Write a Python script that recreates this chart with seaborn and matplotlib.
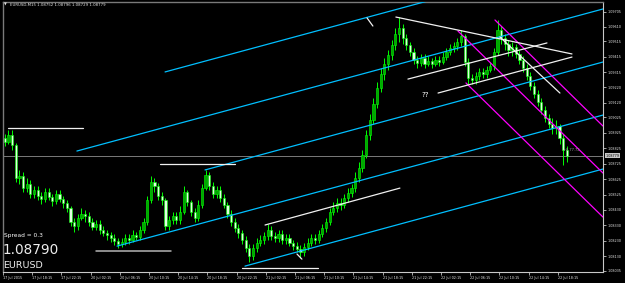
import numpy as np
import pandas as pd
import matplotlib
matplotlib.use("Agg")
import matplotlib.pyplot as plt
import seaborn as sns

# ---------------- data (EURUSD M15, one candle drawn per 2 bars) ----------------
first_open = 1.08892
close_price = [
    1.08866, 1.08911, 1.08847, 1.08634, 1.08647, 1.08569, 1.08595, 1.08531, 1.08557, 1.08518,
    1.08498, 1.08544, 1.08511, 1.08486, 1.08531, 1.08498, 1.08473, 1.08440, 1.08350, 1.08324,
    1.08376, 1.08402, 1.08389, 1.08350, 1.08318, 1.08337, 1.08299, 1.08279, 1.08266, 1.08247,
    1.08228, 1.08208, 1.08221, 1.08247, 1.08234, 1.08266, 1.08253, 1.08299, 1.08350, 1.08492,
    1.08608, 1.08582, 1.08518, 1.08492, 1.08324, 1.08363, 1.08389, 1.08363, 1.08415, 1.08544,
    1.08479, 1.08415, 1.08376, 1.08460, 1.08569, 1.08653, 1.08582, 1.08531, 1.08557, 1.08505,
    1.08460, 1.08402, 1.08350, 1.08311, 1.08279, 1.08234, 1.08182, 1.08131, 1.08182, 1.08215,
    1.08234, 1.08260, 1.08299, 1.08260, 1.08247, 1.08273, 1.08234, 1.08247, 1.08215, 1.08195,
    1.08176, 1.08157, 1.08189, 1.08215, 1.08247, 1.08234, 1.08273, 1.08311, 1.08350, 1.08415,
    1.08440, 1.08473, 1.08460, 1.08505, 1.08537, 1.08569, 1.08634, 1.08698, 1.08782, 1.08911,
    1.09008, 1.09111, 1.09214, 1.09305, 1.09369, 1.09427, 1.09492, 1.09563, 1.09601, 1.09537,
    1.09492, 1.09447, 1.09395, 1.09376, 1.09408, 1.09369, 1.09389, 1.09369, 1.09395, 1.09382,
    1.09414, 1.09447, 1.09472, 1.09485, 1.09511, 1.09550, 1.09382, 1.09279, 1.09266, 1.09292,
    1.09318, 1.09305, 1.09331, 1.09356, 1.09447, 1.09589, 1.09537, 1.09498, 1.09460, 1.09479,
    1.09434, 1.09395, 1.09343, 1.09292, 1.09227, 1.09176, 1.09124, 1.09073, 1.09021, 1.08982,
    1.08956, 1.08969, 1.08892, 1.08815, 1.08779,
]
high_price = [
    1.08918, 1.08944, 1.08944, 1.08860, 1.08686, 1.08673, 1.08634, 1.08621, 1.08582, 1.08582,
    1.08544, 1.08569, 1.08569, 1.08531, 1.08557, 1.08557, 1.08518, 1.08492, 1.08453, 1.08376,
    1.08402, 1.08440, 1.08428, 1.08415, 1.08376, 1.08363, 1.08363, 1.08324, 1.08299, 1.08286,
    1.08273, 1.08247, 1.08247, 1.08273, 1.08273, 1.08299, 1.08286, 1.08324, 1.08376, 1.08518,
    1.08647, 1.08634, 1.08602, 1.08544, 1.08505, 1.08389, 1.08415, 1.08415, 1.08453, 1.08582,
    1.08557, 1.08492, 1.08440, 1.08492, 1.08595, 1.08686, 1.08673, 1.08608, 1.08582, 1.08582,
    1.08531, 1.08479, 1.08428, 1.08376, 1.08337, 1.08299, 1.08260, 1.08208, 1.08208, 1.08247,
    1.08266, 1.08286, 1.08337, 1.08324, 1.08286, 1.08299, 1.08299, 1.08273, 1.08273, 1.08234,
    1.08221, 1.08202, 1.08215, 1.08247, 1.08273, 1.08273, 1.08299, 1.08337, 1.08376, 1.08440,
    1.08479, 1.08505, 1.08505, 1.08531, 1.08569, 1.08595, 1.08673, 1.08737, 1.08815, 1.08944,
    1.09047, 1.09150, 1.09253, 1.09343, 1.09408, 1.09460, 1.09524, 1.09601, 1.09672, 1.09627,
    1.09563, 1.09511, 1.09472, 1.09421, 1.09434, 1.09434, 1.09421, 1.09408, 1.09421, 1.09421,
    1.09447, 1.09472, 1.09498, 1.09511, 1.09537, 1.09589, 1.09563, 1.09408, 1.09305, 1.09318,
    1.09343, 1.09343, 1.09356, 1.09382, 1.09472, 1.09653, 1.09614, 1.09563, 1.09524, 1.09511,
    1.09498, 1.09460, 1.09421, 1.09369, 1.09318, 1.09253, 1.09202, 1.09150, 1.09098, 1.09047,
    1.09021, 1.09008, 1.08982, 1.08918, 1.08840,
]
low_price = [
    1.08840, 1.08853, 1.08815, 1.08608, 1.08595, 1.08544, 1.08544, 1.08505, 1.08505, 1.08492,
    1.08466, 1.08479, 1.08492, 1.08453, 1.08466, 1.08479, 1.08440, 1.08415, 1.08324, 1.08286,
    1.08299, 1.08363, 1.08350, 1.08324, 1.08299, 1.08299, 1.08273, 1.08260, 1.08234, 1.08221,
    1.08202, 1.08182, 1.08189, 1.08202, 1.08208, 1.08221, 1.08234, 1.08234, 1.08279, 1.08331,
    1.08473, 1.08544, 1.08492, 1.08460, 1.08299, 1.08299, 1.08337, 1.08337, 1.08337, 1.08402,
    1.08453, 1.08389, 1.08350, 1.08357, 1.08440, 1.08557, 1.08557, 1.08505, 1.08505, 1.08479,
    1.08440, 1.08376, 1.08324, 1.08286, 1.08247, 1.08208, 1.08157, 1.08092, 1.08105, 1.08157,
    1.08195, 1.08208, 1.08234, 1.08234, 1.08221, 1.08221, 1.08208, 1.08208, 1.08195, 1.08170,
    1.08157, 1.08118, 1.08131, 1.08170, 1.08195, 1.08208, 1.08215, 1.08253, 1.08286, 1.08331,
    1.08395, 1.08415, 1.08428, 1.08440, 1.08479, 1.08511, 1.08544, 1.08608, 1.08673, 1.08763,
    1.08879, 1.08982, 1.09085, 1.09189, 1.09266, 1.09331, 1.09395, 1.09460, 1.09511, 1.09498,
    1.09460, 1.09421, 1.09369, 1.09343, 1.09356, 1.09343, 1.09356, 1.09343, 1.09356, 1.09356,
    1.09369, 1.09395, 1.09427, 1.09447, 1.09460, 1.09485, 1.09356, 1.09240, 1.09240, 1.09240,
    1.09266, 1.09279, 1.09279, 1.09318, 1.09331, 1.09427, 1.09498, 1.09460, 1.09421, 1.09421,
    1.09408, 1.09369, 1.09318, 1.09266, 1.09202, 1.09150, 1.09098, 1.09047, 1.08995, 1.08956,
    1.08918, 1.08918, 1.08853, 1.08718, 1.08737,
]
bars_per_candle = 2

price_ticks = [1.09705, 1.09610, 1.09515, 1.09415, 1.09315, 1.09220, 1.09120, 1.09025, 1.08925,
               1.08825, 1.08725, 1.08625, 1.08525, 1.08430, 1.08330, 1.08230, 1.08130, 1.08035]
time_labels = ["17 Jul 2015", "17 Jul 18:15", "17 Jul 22:15", "20 Jul 02:15", "20 Jul 06:15",
               "20 Jul 10:15", "20 Jul 14:15", "20 Jul 18:15", "20 Jul 22:15", "21 Jul 02:15",
               "21 Jul 06:15", "21 Jul 10:15", "21 Jul 14:15", "21 Jul 18:15", "21 Jul 22:15",
               "22 Jul 02:15", "22 Jul 06:15", "22 Jul 10:15", "22 Jul 14:15", "22 Jul 18:15"]
time_label_bars = [-1, 15, 31, 47, 63, 79, 95, 111, 127, 143,
                   159, 175, 191, 207, 223, 239, 255, 271, 287, 303]

header_ohlc = [1.08752, 1.08796, 1.08729, 1.08779]
bid_price = 1.08779
ask_price = 1.08790
spread = 0.3
symbol = "EURUSD"

# channel lines (cyan)
cyan_bar_start = [87.8, 39.5, 109.7, 61.5, 131.6]
cyan_price_start = [1.09318, 1.08808, 1.08686, 1.08195, 1.08066]
cyan_bar_end = [327.8, 327.8, 327.8, 327.8, 327.8]
cyan_price_end = [1.10081, 1.09724, 1.09382, 1.09040, 1.08692]

# Andrews pitchfork (magenta): median, upper, lower
fork_bar_start = [248.3, 268.6, 252.7]
fork_price_start = [1.09582, 1.09653, 1.09247]
fork_bar_end = [327.8, 327.8, 327.8]
fork_price_end = [1.08666, 1.08969, 1.08382]

# white trend / level lines
white_bar_start = [1.7, 85.0, 130.0, 214.3, 198.5, 220.9, 237.4, 271.3, 142.6, 160.1]
white_price_start = [1.08956, 1.08724, 1.08053, 1.09672, 1.09666, 1.09272, 1.09182, 1.09543, 1.08331, 1.08144]
white_bar_end = [42.8, 126.1, 171.6, 310.8, 201.7, 297.1, 310.8, 304.2, 216.5, 162.8]
white_price_end = [1.08956, 1.08724, 1.08053, 1.09434, 1.09614, 1.09505, 1.09414, 1.09182, 1.08569, 1.08111]

gray_bar_start = [50.0]
gray_price_start = [1.08163]
gray_bar_end = [91.1]
gray_price_end = [1.08163]

note_bar, note_price = 230.2, 1.09169
timer_bar, timer_price, timer_text = 306.0, 1.08815, "+8 77.72"


def segments(b0, p0, b1, p1):
    rows = []
    for k in range(len(b0)):
        rows.append({"line": k, "bar": b0[k], "price": p0[k]})
        rows.append({"line": k, "bar": b1[k], "price": p1[k]})
    return pd.DataFrame(rows)


# ---------------- figure ----------------
sns.set_theme(style="dark", rc={"axes.facecolor": "black", "figure.facecolor": "black"})
plt.rcParams["font.family"] = ["DejaVu Sans"]

W, H = 625, 283
fig = plt.figure(figsize=(W / 100, H / 100), dpi=100)
fig.patch.set_facecolor("black")
ax = fig.add_axes([3 / W, 11 / H, 600 / W, 270 / H])
ax.set_facecolor("black")
ax.grid(False)

c = np.array(close_price)
hgh = np.array(high_price)
low = np.array(low_price)
o = np.r_[first_open, c[:-1]]
bars = np.arange(len(c)) * bars_per_candle
up = c >= o
bottom = np.minimum(o, c)
height = np.abs(c - o)

ax.vlines(bars, low, hgh, color="#00ff00", lw=0.7, zorder=3)
ax.bar(bars[up], height[up], bottom=bottom[up], width=1.2, color="#00a800",
       edgecolor="#00ff00", linewidth=0.4, zorder=4)
ax.bar(bars[~up], height[~up], bottom=bottom[~up], width=1.2, color="#dfffdf",
       edgecolor="#00ff00", linewidth=0.4, zorder=4)

ax.axhline(bid_price, color="#7a7a7a", lw=0.7, zorder=2)

sns.lineplot(data=segments(cyan_bar_start, cyan_price_start, cyan_bar_end, cyan_price_end),
             x="bar", y="price", units="line", estimator=None, sort=False,
             color="#00bfff", lw=0.9, ax=ax, legend=False, zorder=5)
sns.lineplot(data=segments(fork_bar_start, fork_price_start, fork_bar_end, fork_price_end),
             x="bar", y="price", units="line", estimator=None, sort=False,
             color="#ff00ff", lw=0.9, ax=ax, legend=False, zorder=5)
sns.lineplot(data=segments(white_bar_start, white_price_start, white_bar_end, white_price_end),
             x="bar", y="price", units="line", estimator=None, sort=False,
             color="#f0f0f0", lw=0.9, ax=ax, legend=False, zorder=6)
sns.lineplot(data=segments(gray_bar_start, gray_price_start, gray_bar_end, gray_price_end),
             x="bar", y="price", units="line", estimator=None, sort=False,
             color="#b4b4b4", lw=1.1, ax=ax, legend=False, zorder=6)

ax.set_xlim(-1, 327.8)
ax.set_ylim(1.08028, 1.09769)
ax.set_xlabel("")
ax.set_ylabel("")

ax.yaxis.tick_right()
ax.set_yticks(price_ticks)
ax.set_yticklabels([f"{v:.5f}" for v in price_ticks])
ax.tick_params(axis="y", colors="#e6e6e6", labelsize=2.4, length=2, width=0.5, pad=1,
               left=False, right=True)
ax.set_xticks(time_label_bars)
ax.set_xticklabels(time_labels)
ax.tick_params(axis="x", colors="#e6e6e6", labelsize=2.4, length=2, width=0.5, pad=0.6,
               bottom=True)
for lab in ax.get_xticklabels():
    lab.set_ha("left")

for side in ["right", "bottom"]:
    ax.spines[side].set_color("#c8c8c8")
    ax.spines[side].set_linewidth(0.8)
for side in ["top", "left"]:
    ax.spines[side].set_color("#7a7a7a")
    ax.spines[side].set_linewidth(1.0)

# current price box on the price scale
ax.text(1.004, bid_price, f"{bid_price:.5f}", transform=ax.get_yaxis_transform(),
        fontsize=2.4, color="black", ha="left", va="center", clip_on=False,
        bbox=dict(boxstyle="square,pad=0.2", fc="#c8c8c8", ec="none"), zorder=10)

ax.text(note_bar, note_price, "??", color="white", fontsize=5, ha="center", va="center", zorder=7)
ax.text(timer_bar, timer_price, timer_text, color="#a0a0a0", fontsize=2.6, ha="left",
        va="center", zorder=7)

# screen overlays
def fx(x):
    return x / W

def fy(y):
    return 1 - y / H

fig.text(fx(4), fy(5), "\u25bc", color="#e0e0e0", fontsize=2.6, va="center", ha="left")
fig.text(fx(10), fy(5), f"{symbol},M15 " + " ".join(f"{v:.5f}" for v in header_ohlc),
         color="#e6e6e6", fontsize=2.8, va="center", ha="left")
fig.text(fx(4), fy(235), f"Spread = {spread}", color="white", fontsize=4.2, va="center", ha="left")
fig.text(fx(3), fy(250), f"{ask_price:.5f}", color="#ececec", fontsize=9.8, va="center", ha="left")
fig.text(fx(3), fy(266), symbol, color="#ececec", fontsize=6.8, va="center", ha="left")

fig.savefig("out.png", dpi=100, facecolor="black")
